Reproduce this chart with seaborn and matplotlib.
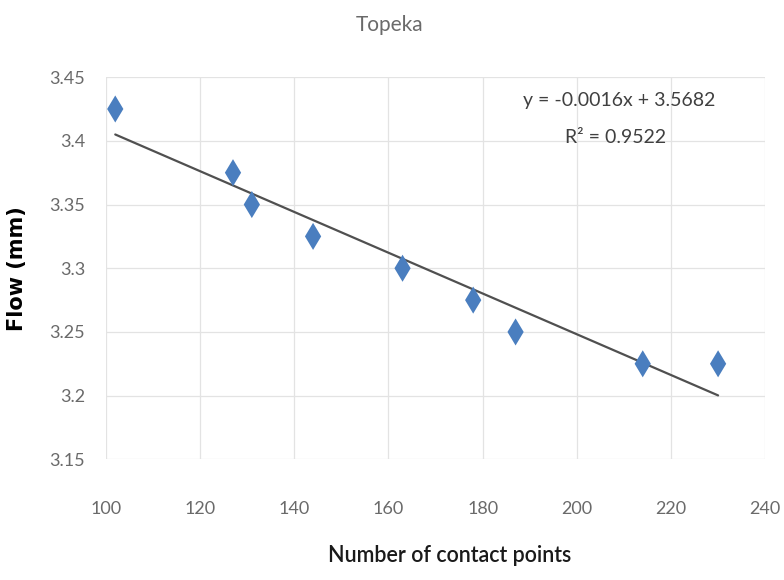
import matplotlib
matplotlib.use("Agg")
import matplotlib.pyplot as plt
import seaborn as sns
import numpy as np
import pandas as pd

contact_points = [102, 127, 131, 144, 163, 178, 187, 214, 230]
flow_mm = [3.425, 3.375, 3.35, 3.325, 3.30, 3.275, 3.25, 3.225, 3.225]
slope = -0.0016
intercept = 3.5682
r_squared = 0.9522
x_ticks = [100, 120, 140, 160, 180, 200, 220, 240]
y_ticks = [3.15, 3.2, 3.25, 3.3, 3.35, 3.4, 3.45]
y_tick_labels = ["3.15", "3.2", "3.25", "3.3", "3.35", "3.4", "3.45"]

sns.set_theme(style="white")
plt.rcParams['font.family'] = ['Lato', 'DejaVu Sans']

df = pd.DataFrame({"x": contact_points, "y": flow_mm})
trend_x = [min(contact_points), max(contact_points)]
trend = pd.DataFrame({"x": trend_x, "y": [slope * v + intercept for v in trend_x]})

fig = plt.figure(figsize=(7.84, 5.80), dpi=100)
ax = fig.add_axes([0.135, 0.208, 0.841, 0.659])

sns.lineplot(data=trend, x="x", y="y", ax=ax, color="#505050", linewidth=1.6, zorder=2)
sns.scatterplot(data=df, x="x", y="y", ax=ax, marker="d", s=190, color="#4a7ebf",
                edgecolor="none", zorder=3)

ax.set_xlim(100, 240)
ax.set_ylim(3.15, 3.45)
ax.set_xticks(x_ticks)
ax.set_yticks(y_ticks)
ax.set_yticklabels(y_tick_labels)
ax.grid(True, color="#e3e3e3", linewidth=0.9)
for s in ax.spines.values():
    s.set_visible(False)
ax.tick_params(axis="x", pad=30, labelsize=13, colors="#6a6a6a", length=0)
ax.tick_params(axis="y", pad=15, labelsize=13, colors="#6a6a6a", length=0)

ax.set_xlabel("Number of contact points", fontsize=15.5, fontweight="semibold",
              color="#1a1a1a")
ax.xaxis.set_label_coords(0.522, -0.225)
ax.set_ylabel("Flow (mm)", fontsize=15, fontweight="bold", color="black",
              family="DejaVu Sans", labelpad=16)
fig.text(0.497, 0.957, "Topeka", ha="center", va="center", fontsize=15, color="#6a6a6a")

ax.text(0.779, 0.94, f"y = {slope}x + {intercept}", transform=ax.transAxes,
        ha="center", va="center", fontsize=14, color="#404040")
ax.text(0.773, 0.843, f"R² = {r_squared}", transform=ax.transAxes,
        ha="center", va="center", fontsize=14, color="#404040")

fig.savefig("out.png", dpi=100)
